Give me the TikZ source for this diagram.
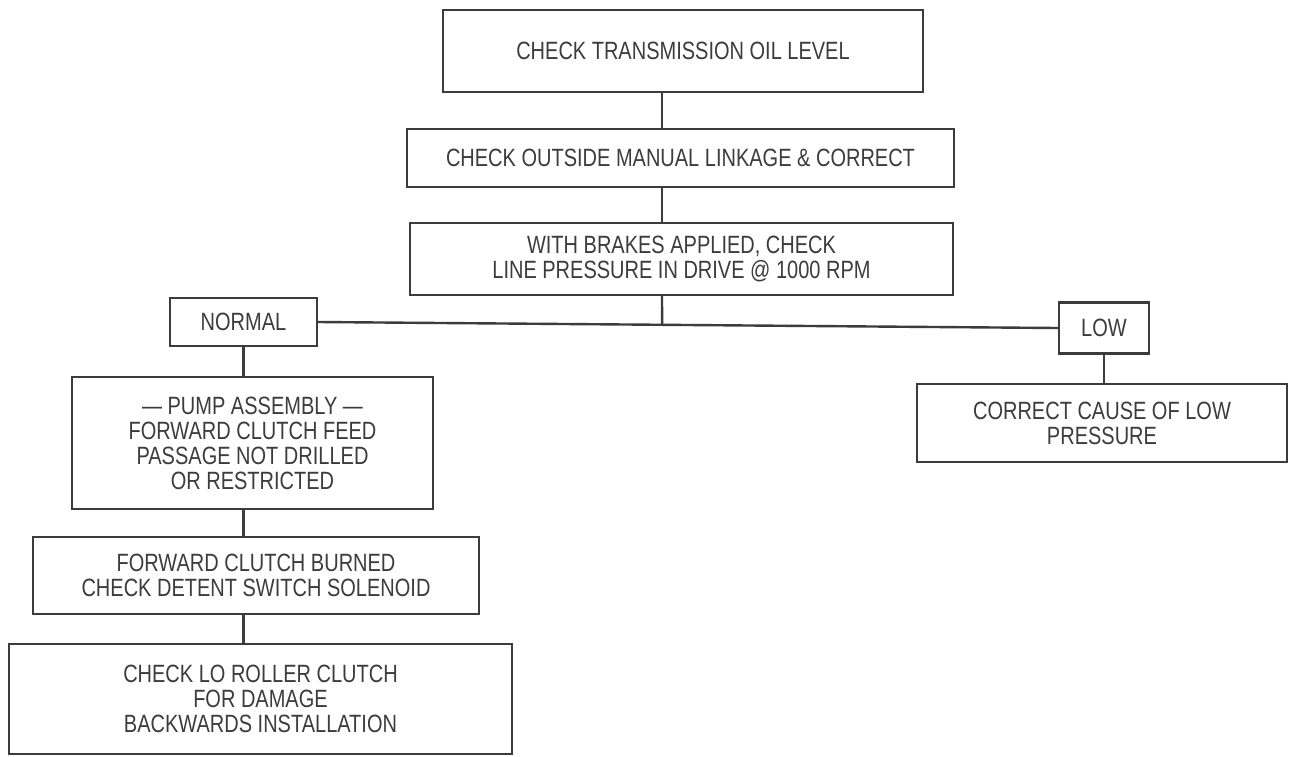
\documentclass[tikz,border=0pt]{standalone}
\usepackage{fontspec}
\setmainfont{Liberation Sans}[FakeStretch=0.80]
\usetikzlibrary{calc}
\definecolor{ink}{HTML}{3C3C3C}
\begin{document}
\begin{tikzpicture}[x=1pt,y=-1pt,
  box/.style={draw=ink, line width=2.4pt, rectangle, inner sep=0pt, align=center,
    text=ink, font=\fontsize{25}{25}\selectfont},
  link/.style={draw=ink, line width=2.4pt}]
\useasboundingbox (0,0) rectangle (1293,756);
\node[box, minimum width=480, minimum height=82] (b1) at (683,51) {CHECK TRANSMISSION OIL LEVEL};
\node[box, minimum width=547, minimum height=58] (b2) at (680.5,158) {CHECK OUTSIDE MANUAL LINKAGE \& CORRECT};
\node[box, minimum width=543, minimum height=72] (b3) at (681.5,259) {WITH BRAKES APPLIED, CHECK\\LINE PRESSURE IN DRIVE @ 1000 RPM};
\node[box, minimum width=147, minimum height=48] (normal) at (243.5,322) {NORMAL};
\node[box, minimum width=90, minimum height=51] (low) at (1104,328) {LOW};
\node[box, minimum width=370, minimum height=78] (correct) at (1102,423) {CORRECT CAUSE OF LOW\\PRESSURE};
\node[box, minimum width=361, minimum height=132] (pump) at (252.5,443) {--- PUMP ASSEMBLY ---\\FORWARD CLUTCH FEED\\PASSAGE NOT DRILLED\\OR RESTRICTED};
\node[box, minimum width=446, minimum height=77] (fwd) at (256,575.5) {FORWARD CLUTCH BURNED\\CHECK DETENT SWITCH SOLENOID};
\node[box, minimum width=503, minimum height=110] (lo) at (260.5,699) {CHECK LO ROLLER CLUTCH\\FOR DAMAGE\\BACKWARDS INSTALLATION};
\coordinate (spine) at (662,0);
\coordinate (junction) at ($(normal.east)!0.465!(low.west)$);
\draw[link] (b1.south -| spine) -- (b2.north -| spine);
\draw[link] (b2.south -| spine) -- (b3.north -| spine);
\draw[link] (b3.south -| spine) -- (junction);
\draw[link] (normal.east) -- (low.west);
\draw[link] (normal.south) -- (normal.south |- pump.north);
\draw[link] (pump.south -| normal.south) -- (fwd.north -| normal.south);
\draw[link] (fwd.south -| normal.south) -- (lo.north -| normal.south);
\draw[link] (low.south) -- (low.south |- correct.north);
\end{tikzpicture}
\end{document}
